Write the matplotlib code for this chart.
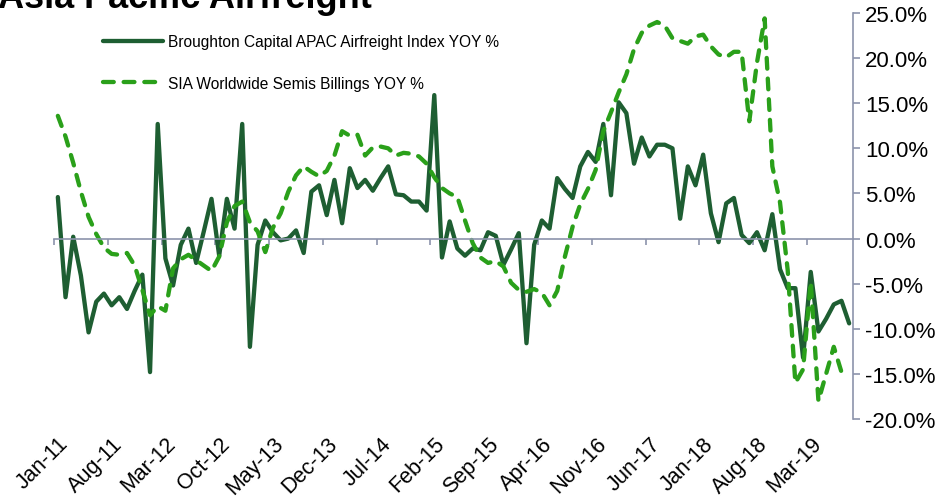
import numpy as np
import matplotlib
matplotlib.use("Agg")
import matplotlib.pyplot as plt
from matplotlib.ticker import FuncFormatter

plt.rcParams['font.family'] = ['Liberation Sans', 'DejaVu Sans']

# Monthly categories Jan-11 .. Aug-19 (104 months)
n_months = 104
tick_labels = ["Jan-11", "Aug-11", "Mar-12", "Oct-12", "May-13", "Dec-13", "Jul-14",
               "Feb-15", "Sep-15", "Apr-16", "Nov-16", "Jun-17", "Jan-18", "Aug-18", "Mar-19"]
label_every = 7

broughton = [4.6, -6.5, 0.2, -4.1, -10.4, -7.0, -6.1, -7.4, -6.5, -7.8,
             -5.8, -4.0, -14.8, 12.7, -2.2, -5.2, -0.7, 1.1, -2.7, 0.8,
             4.4, -1.9, 4.4, 1.1, 12.7, -12.0, -0.7, 2.0, 0.7, -0.2,
             0.0, 0.9, -1.6, 5.2, 5.9, 2.6, 6.5, 1.7, 7.8, 5.6,
             6.5, 5.3, 6.7, 8.0, 4.9, 4.8, 4.1, 4.1, 3.1, 15.9,
             -2.1, 1.9, -1.1, -1.9, -1.1, -1.3, 0.7, 0.3, -2.9, -1.2,
             0.6, -11.6, -0.7, 2.0, 1.1, 6.7, 5.5, 4.5, 8.0, 9.6,
             8.5, 12.7, 4.8, 15.1, 13.9, 8.3, 11.2, 9.1, 10.4, 10.4,
             10.0, 2.2, 8.0, 5.9, 9.3, 2.8, -0.4, 3.9, 4.5, 0.4,
             -0.5, 0.7, -1.3, 2.7, -3.4, -5.5, -5.5, -13.2, -3.7, -10.3,
             -8.9, -7.3, -6.9, -9.4]

sia = [13.6, 11.3, 8.4, 5.2, 2.4, 0.5, -1.0, -1.7, -1.8, -1.6,
       -3.0, -5.7, -8.5, -7.5, -8.0, -3.3, -2.3, -1.8, -2.4, -3.0,
       -3.6, -2.0, 1.8, 3.6, 4.1, 1.8, 0.8, -1.5, 1.2, 2.8,
       5.2, 7.0, 8.0, 7.4, 6.9, 7.5, 9.2, 11.9, 11.4, 11.5,
       9.2, 10.1, 10.2, 10.0, 9.2, 9.5, 9.4, 9.1, 8.3, 6.8,
       5.6, 5.0, 4.6, 2.0, -0.5, -2.1, -2.7, -2.5, -3.1, -4.9,
       -5.7, -5.9, -5.6, -6.0, -7.4, -5.8, -2.0, 1.3, 3.8, 5.5,
       7.6, 11.9, 14.0, 16.2, 18.2, 21.0, 22.8, 23.6, 24.0, 23.6,
       22.2, 21.9, 21.6, 22.4, 22.6, 21.3, 20.4, 20.1, 20.7, 20.7,
       13.0, 19.5, 24.4, 8.0, 4.0, -3.5, -16.0, -14.5, -4.8, -18.0,
       -15.0, -12.0, -14.8]

series_names = ["Broughton Capital APAC Airfreight Index YOY %",
                "SIA Worldwide Semis Billings YOY %"]
title = "Asia Pacific Airfreight"

dark_green = "#1E5E32"
light_green = "#2AA01A"
axis_color = "#8C94AC"

W, H = 940, 502
fig = plt.figure(figsize=(W / 100, H / 100), dpi=100)
ax = fig.add_axes([54 / W, (H - 420) / H, 799 / W, 406 / H])

x_b = np.arange(len(broughton))
x_s = np.arange(len(sia))
ax.plot(x_b, broughton, color=dark_green, lw=3.1, solid_joinstyle='round',
        solid_capstyle='round', label=series_names[0])
ax.plot(x_s, sia, color=light_green, lw=3.1, dashes=(2.5, 2.3),
        dash_capstyle='round', dash_joinstyle='round', label=series_names[1])

ax.set_xlim(-0.5, n_months - 0.5)
ax.set_ylim(-20, 25)

for s in ['left', 'top']:
    ax.spines[s].set_visible(False)
ax.spines['bottom'].set_position(('data', 0))
ax.spines['bottom'].set_color(axis_color)
ax.spines['bottom'].set_linewidth(1.2)
ax.spines['right'].set_color(axis_color)
ax.spines['right'].set_linewidth(1.2)

ax.yaxis.tick_right()
ax.set_yticks(np.arange(-20, 26, 5))
ax.yaxis.set_major_formatter(FuncFormatter(lambda v, p: f"{v:.1f}%"))
ax.tick_params(axis='y', direction='out', length=5, width=1.2, color=axis_color,
               labelsize=16, pad=3.5, labelcolor='black')

ax.set_xticks(np.arange(-0.5, n_months - 0.5, label_every))
ax.tick_params(axis='x', direction='out', length=4, width=1.2, color=axis_color,
               labelbottom=False)

sec = ax.secondary_xaxis('bottom')
sec.set_xticks(np.arange(0, n_months, label_every)[:len(tick_labels)], labels=tick_labels)
sec.tick_params(length=0, pad=10, labelsize=15.5)
sec.spines['bottom'].set_visible(False)
for lab in sec.get_xticklabels():
    lab.set_rotation(45)
    lab.set_ha('right')
    lab.set_va('top')
    lab.set_rotation_mode('anchor')

leg = ax.legend(loc='upper left', bbox_to_anchor=(103 / W, 1 - 35 / H),
                bbox_transform=fig.transFigure, frameon=False, fontsize=11.2,
                handlelength=3.85, handletextpad=0.35, labelspacing=1.72,
                borderpad=0, borderaxespad=0)

fig.text(-0.002, 0.984, title, fontsize=26, fontweight='bold', va='baseline', ha='left')

fig.savefig("out.png", dpi=100, facecolor='white')
